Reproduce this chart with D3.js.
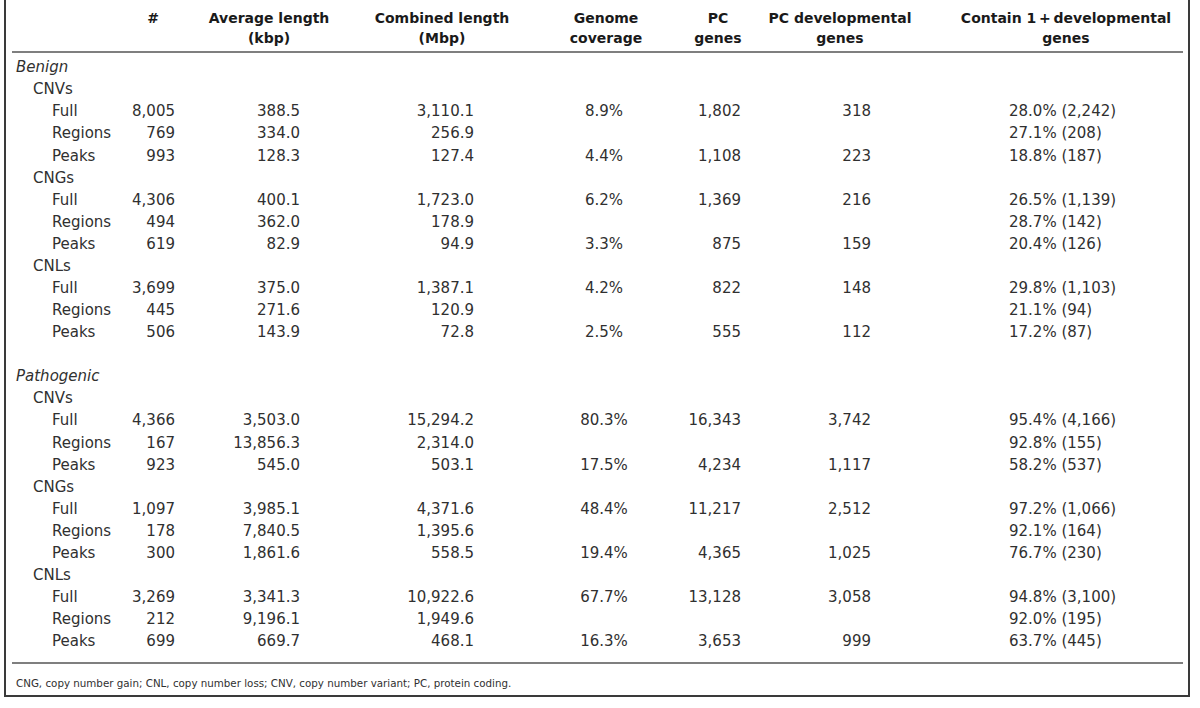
<!DOCTYPE html>
<html><head><meta charset="utf-8">
<script src="https://cdn.jsdelivr.net/npm/d3@7"></script>
<style>body{margin:0;background:#fff;} svg{display:block;}</style>
</head><body>
<svg id="chart" width="1200" height="708"></svg>
<script>
// ---- data ----
const headers = [
  ["#"], ["Average length", "(kbp)"], ["Combined length", "(Mbp)"],
  ["Genome", "coverage"], ["PC", "genes"], ["PC developmental", "genes"],
  ["Contain 1\u2009+\u2009developmental", "genes"]
];
const classes = ["Benign", "Pathogenic"];
const variantTypes = ["CNVs", "CNGs", "CNLs"];
const setTypes = ["Full", "Regions", "Peaks"];
const countN = ["8,005","769","993","4,306","494","619","3,699","445","506",
                "4,366","167","923","1,097","178","300","3,269","212","699"];
const avgLen = ["388.5","334.0","128.3","400.1","362.0","82.9","375.0","271.6","143.9",
                "3,503.0","13,856.3","545.0","3,985.1","7,840.5","1,861.6","3,341.3","9,196.1","669.7"];
const combLen = ["3,110.1","256.9","127.4","1,723.0","178.9","94.9","1,387.1","120.9","72.8",
                 "15,294.2","2,314.0","503.1","4,371.6","1,395.6","558.5","10,922.6","1,949.6","468.1"];
const coverage = ["8.9%","","4.4%","6.2%","","3.3%","4.2%","","2.5%",
                  "80.3%","","17.5%","48.4%","","19.4%","67.7%","","16.3%"];
const pcGenes = ["1,802","","1,108","1,369","","875","822","","555",
                 "16,343","","4,234","11,217","","4,365","13,128","","3,653"];
const pcDev = ["318","","223","216","","159","148","","112",
               "3,742","","1,117","2,512","","1,025","3,058","","999"];
const contain = ["28.0% (2,242)","27.1% (208)","18.8% (187)","26.5% (1,139)","28.7% (142)","20.4% (126)",
                 "29.8% (1,103)","21.1% (94)","17.2% (87)",
                 "95.4% (4,166)","92.8% (155)","58.2% (537)","97.2% (1,066)","92.1% (164)","76.7% (230)",
                 "94.8% (3,100)","92.0% (195)","63.7% (445)"];
const footnote = "CNG, copy number gain; CNL, copy number loss; CNV, copy number variant; PC, protein coding.";

// ---- layout ----
const svg = d3.select("#chart");
const font = "'DejaVu Sans', sans-serif";
const ink = "#303030";

const rows = [];
let k = 0;
classes.forEach((c, ci) => {
  rows.push({type: "class", label: c});
  variantTypes.forEach(v => {
    rows.push({type: "variant", label: v});
    setTypes.forEach(s => { rows.push({type: "set", label: s, d: k}); k++; });
  });
  if (ci < classes.length - 1) rows.push({type: "blank"});
});

const y = d3.scaleLinear().domain([0, rows.length - 1]).range([67, 641]);
const indent = {class: 16, variant: 33, set: 52};

const cols = [
  {vals: countN,  x: 175,  anchor: "end"},
  {vals: avgLen,  x: 300,  anchor: "end"},
  {vals: combLen, x: 474,  anchor: "end"},
  {vals: coverage,x: 604,  anchor: "middle"},
  {vals: pcGenes, x: 741,  anchor: "end"},
  {vals: pcDev,   x: 871,  anchor: "end"},
  {vals: contain, x: 1009, anchor: "start"}
];
const headX = [153, 269, 442, 606, 718, 840, 1066];

// frame
svg.append("path").attr("d", "M5,0 V696 H1189 V0")
  .attr("fill", "none").attr("stroke", "#3a3a3a").attr("stroke-width", 2);

// header
const hg = svg.append("g").attr("font-family", font).attr("font-weight", 700)
  .attr("font-size", 14).attr("fill", "#1a1a1a").attr("text-anchor", "middle");
headers.forEach((h, i) => {
  h.forEach((line, j) => {
    hg.append("text").attr("x", headX[i]).attr("y", 18 + j * 20).attr("dy", "0.35em").text(line);
  });
});

// rules
svg.append("line").attr("x1", 12).attr("x2", 1183).attr("y1", 52).attr("y2", 52)
  .attr("stroke", "#555").attr("stroke-width", 1.6);
svg.append("line").attr("x1", 12).attr("x2", 1183).attr("y1", 663).attr("y2", 663)
  .attr("stroke", "#555").attr("stroke-width", 1.6);

// body
const bg = svg.append("g").attr("font-family", font).attr("font-size", 15).attr("fill", ink);
rows.forEach((r, i) => {
  if (r.type === "blank") return;
  bg.append("text").attr("x", indent[r.type]).attr("y", y(i)).attr("dy", "0.35em")
    .attr("font-style", r.type === "class" ? "italic" : "normal").text(r.label);
  if (r.type === "set") {
    cols.forEach(c => {
      const v = c.vals[r.d];
      if (!v) return;
      bg.append("text").attr("x", c.x).attr("y", y(i)).attr("dy", "0.35em")
        .attr("text-anchor", c.anchor).text(v);
    });
  }
});

// footnote
svg.append("text").attr("x", 16).attr("y", 683).attr("dy", "0.35em")
  .attr("font-family", font).attr("font-size", 10.3).attr("fill", ink).text(footnote);
</script>
</body></html>
